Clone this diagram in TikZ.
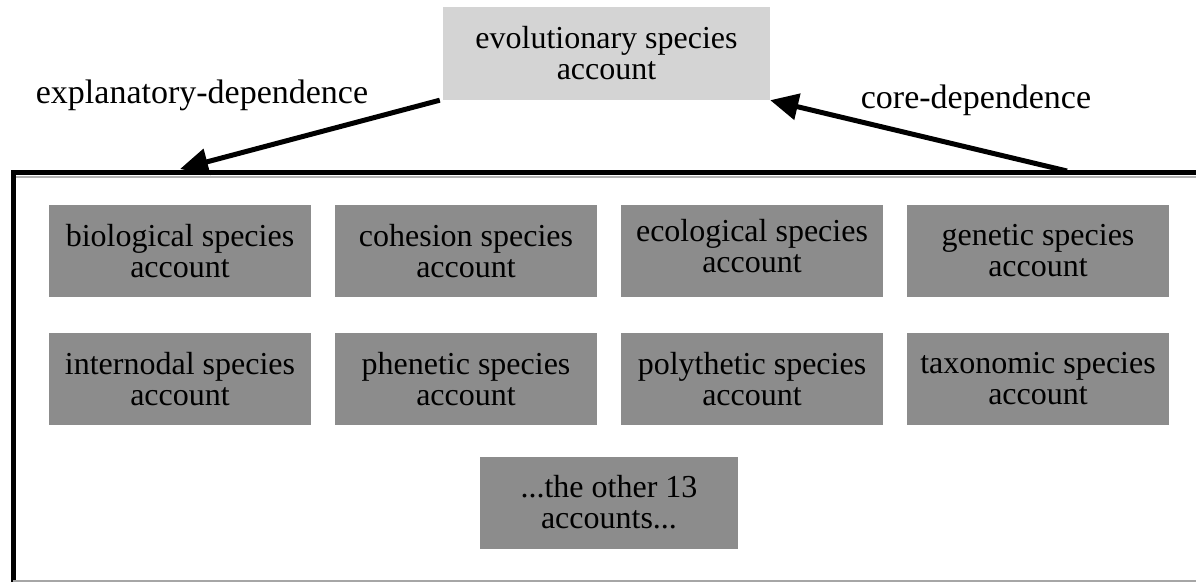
\documentclass[tikz,border=0pt]{standalone}
\usepackage{fontspec}
\setmainfont{Liberation Serif}
\usetikzlibrary{arrows.meta}
\definecolor{boxdark}{HTML}{8C8C8C}
\definecolor{boxlight}{HTML}{D4D4D4}
\tikzset{
  acct/.style={fill=boxdark, minimum width=262pt, minimum height=92pt, inner sep=0pt, align=center, font=\fontsize{32}{31}\selectfont, text=black},
  topacct/.style={fill=boxlight, minimum width=327pt, minimum height=93pt, inner sep=0pt, align=center, font=\fontsize{32}{31}\selectfont},
  lbl/.style={font=\fontsize{34}{31}\selectfont, inner sep=0pt},
  dep/.style={line width=5pt, -{Triangle[length=28pt, width=26pt]}, shorten >=0pt}
}
\begin{document}
\begin{tikzpicture}[x=1pt,y=-1pt]
\useasboundingbox (0,0) rectangle (1196,582);
\begin{scope}
\clip (0,0) rectangle (1196,582);
\draw[line width=5pt] (13.5,582) -- (13.5,172) -- (1210,172);
\draw[gray!60, line width=2pt] (16,176.5) -- (1210,176.5);
\draw[gray!70, line width=1.5pt] (13,581) -- (1210,581);
\end{scope}
\node[topacct] (evo) at (606.5,53.5) {evolutionary species\\account};
\node[lbl] (expl) at (202,95) {explanatory-dependence};
\node[lbl] (core) at (976,100) {core-dependence};
\coordinate (boxL) at (180,169);
\coordinate (boxR) at (1067,171);
\node[acct] (bio) at (180,251) {biological species\\account};
\node[acct] (coh) at (466,251) {cohesion species\\account};
\node[acct] (eco) at (752,251) {\raisebox{7pt}{\begin{tabular}{@{}c@{}}ecological species\\account\end{tabular}}};
\node[acct] (gen) at (1038,251) {genetic species\\account};
\node[acct] (int) at (180,379) {internodal species\\account};
\node[acct] (phe) at (466,379) {phenetic species\\account};
\node[acct] (pol) at (752,379) {polythetic species\\account};
\node[acct] (tax) at (1038,379) {taxonomic species\\account};
\node[acct, minimum width=258pt] (oth) at (609,502.5) {...the other 13\\accounts...};
\draw[dep] (evo.south west) ++(-3,0) coordinate (eL) (eL) -- (boxL);
\draw[dep] (boxR) -- (evo.south east);
\end{tikzpicture}
\end{document}
